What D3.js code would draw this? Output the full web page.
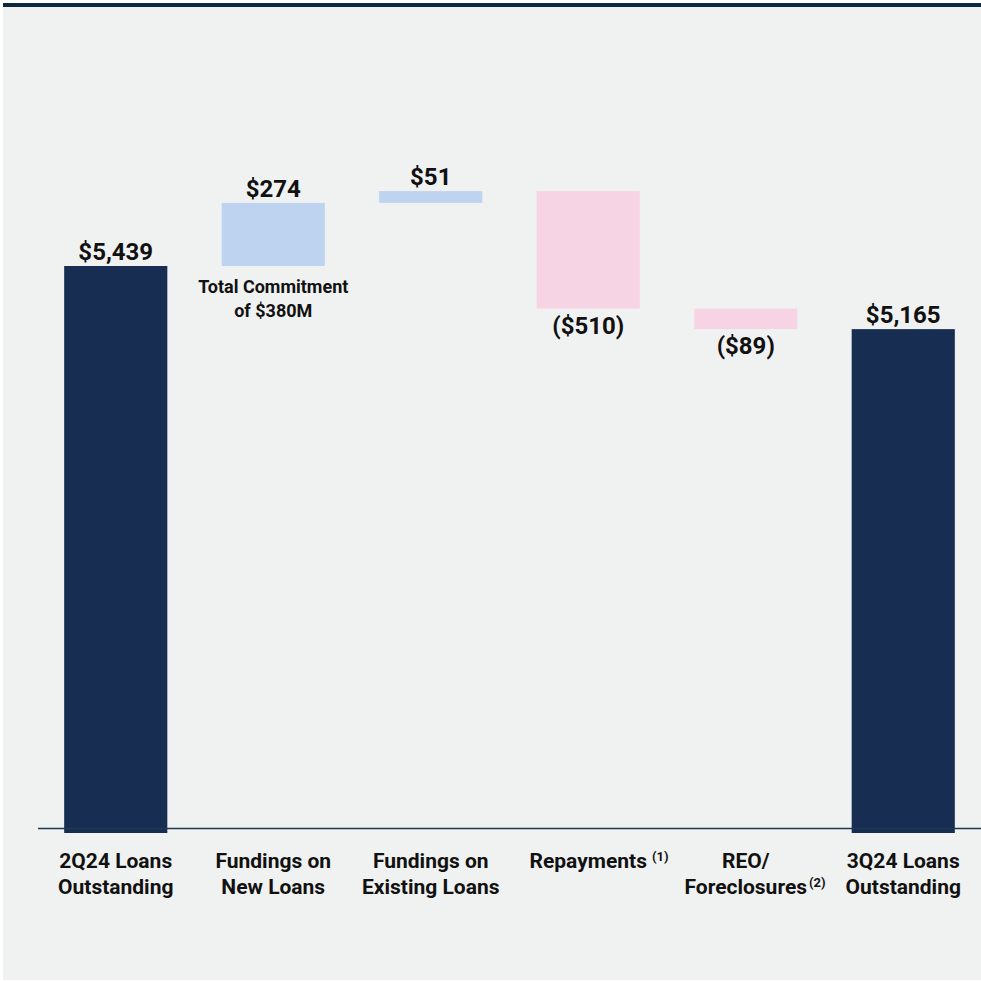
<!DOCTYPE html>
<html>
<head>
<meta charset="utf-8">
<script src="https://cdn.jsdelivr.net/npm/d3@7"></script>
<style>
  html, body { margin: 0; padding: 0; background: #ffffff; }
  svg { display: block; font-family: Roboto, "Noto Sans", sans-serif; }
</style>
</head>
<body>
<svg id="chart" width="981" height="981"></svg>
<script>
// Loan portfolio bridge, $ millions
const categories = ["2Q24", "FundNew", "FundExisting", "Repay", "REO", "3Q24"];
const labelLines = [
  [["2Q24 Loans"], ["Outstanding"]],
  [["Fundings on"], ["New Loans"]],
  [["Fundings on"], ["Existing Loans"]],
  [["Repayments", "(1)"]],
  [["REO/"], ["Foreclosures", "(2)"]],
  [["3Q24 Loans"], ["Outstanding"]]
];
const kinds = ["total", "delta", "delta", "delta", "delta", "total"];
const values = [5439, 274, 51, -510, -89, 5165];
const valueLabels = ["$5,439", "$274", "$51", "($510)", "($89)", "$5,165"];
const noteLines = ["Total Commitment", "of $380M"];
const axisFloor = 3000;

const colors = { total: "#172e52", up: "#bdd3f0", down: "#f7d4e4" };

const svg = d3.select("#chart");

// panel background and top rule
svg.append("rect").attr("x", 3).attr("y", 3).attr("width", 978).attr("height", 977).attr("fill", "#f0f2f1");
svg.append("rect").attr("x", 3).attr("y", 3).attr("width", 978).attr("height", 4).attr("fill", "#0b2a40");

// waterfall segments
let running = 0;
const segs = categories.map((c, i) => {
  let y0, y1;
  if (kinds[i] === "total") {
    y0 = axisFloor; y1 = values[i]; running = values[i];
  } else {
    y0 = running; y1 = running + values[i]; running = y1;
  }
  return { cat: c, i, y0, y1, v: values[i], kind: kinds[i] };
});

const x = d3.scaleBand().domain(categories).range([37, 982]).paddingInner(0.345).paddingOuter(0.1725);
const y = d3.scaleLinear().domain([axisFloor, 5439]).range([828, 266]);

const bars = svg.append("g");
bars.selectAll("rect").data(segs).join("rect")
  .attr("x", d => x(d.cat))
  .attr("width", x.bandwidth())
  .attr("y", d => y(Math.max(d.y0, d.y1)))
  .attr("height", d => Math.abs(y(d.y0) - y(d.y1)) + (d.kind === "total" ? 5 : 0))
  .attr("fill", d => d.kind === "total" ? colors.total : (d.v >= 0 ? colors.up : colors.down));

// baseline
svg.append("line").attr("x1", 38).attr("x2", 981).attr("y1", 828.5).attr("y2", 828.5)
  .attr("stroke", "#1b3a52").attr("stroke-width", 1.5);

// value labels
svg.append("g").selectAll("text").data(segs).join("text")
  .attr("x", d => x(d.cat) + x.bandwidth() / 2)
  .attr("y", d => d.v >= 0 || d.kind === "total" ? y(Math.max(d.y0, d.y1)) - 6 : y(Math.min(d.y0, d.y1)) + 25)
  .attr("text-anchor", "middle")
  .attr("font-size", 24).attr("font-weight", 700).attr("fill", "#111")
  .text((d, i) => valueLabels[i]);

// commitment note under the new-loan fundings bar
const noteSeg = segs[1];
svg.append("g").selectAll("text").data(noteLines).join("text")
  .attr("x", x(noteSeg.cat) + x.bandwidth() / 2)
  .attr("y", (d, j) => y(noteSeg.y0) + 27 + j * 24)
  .attr("text-anchor", "middle")
  .attr("font-size", 18).attr("font-weight", 700).attr("fill", "#111")
  .text(d => d);

// category labels; footnote markers hang to the right of the centred word
const axisG = svg.append("g");
categories.forEach((c, i) => {
  const cx = x(c) + x.bandwidth() / 2;
  labelLines[i].forEach((line, j) => {
    const ly = 868 + j * 26;
    const main = axisG.append("text")
      .attr("x", cx).attr("y", ly)
      .attr("text-anchor", "middle")
      .attr("font-size", 21).attr("font-weight", 700).attr("fill", "#111")
      .text(line[0]);
    if (line[1]) {
      const w = main.node().getComputedTextLength();
      axisG.append("text")
        .attr("x", cx + w / 2 + (line[0] === "Repayments" ? 5 : 2))
        .attr("y", ly - 7)
        .attr("font-size", 13).attr("font-weight", 700).attr("fill", "#111")
        .text(line[1]);
    }
  });
});
</script>
</body>
</html>
